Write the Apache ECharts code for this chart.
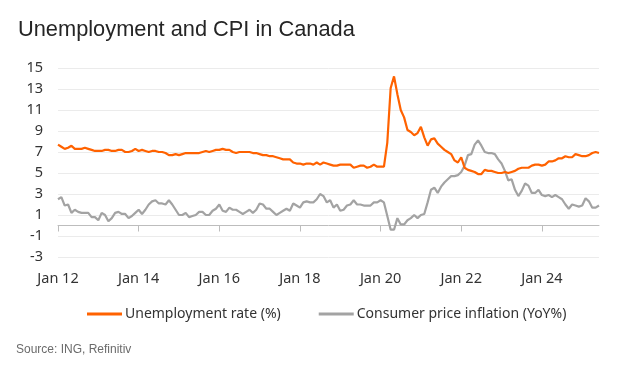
<!DOCTYPE html>
<html><head><meta charset="utf-8">
<script src="https://cdn.jsdelivr.net/npm/echarts@6/dist/echarts.min.js"></script>
<style>html,body{margin:0;padding:0;background:#fff}#c{width:633px;height:374px}</style>
</head><body><div id="c"></div>
<script>
var startYear = 2012;
var monthNames = ['Jan','Feb','Mar','Apr','May','Jun','Jul','Aug','Sep','Oct','Nov','Dec'];
var yTicks = [-3,-1,1,3,5,7,9,11,13,15];
var unemployment = [
 7.7,7.5,7.3,7.4,7.6,7.3,7.3,7.3,7.4,7.3,7.2,7.1,
 7.1,7.1,7.2,7.2,7.1,7.1,7.2,7.2,7.0,7.0,7.1,7.3,
 7.1,7.2,7.1,7.0,7.1,7.1,7.0,7.0,6.9,6.7,6.7,6.8,
 6.7,6.8,6.9,6.9,6.9,6.9,6.9,7.0,7.1,7.0,7.1,7.2,
 7.2,7.3,7.2,7.2,7.0,6.9,7.0,7.0,7.0,7.0,6.9,6.9,
 6.8,6.7,6.7,6.6,6.6,6.5,6.4,6.3,6.3,6.3,6.0,5.9,
 5.9,5.8,5.9,5.9,5.8,6.0,5.8,6.0,5.9,5.8,5.7,5.7,
 5.8,5.8,5.8,5.8,5.5,5.6,5.7,5.7,5.5,5.6,5.8,5.6,
 5.6,5.6,7.9,13.1,14.2,12.5,11.0,10.3,9.1,8.9,8.6,8.8,
 9.4,8.4,7.6,8.2,8.3,7.8,7.5,7.2,7.0,6.8,6.2,6.0,
 6.5,5.5,5.3,5.2,5.1,4.9,4.9,5.3,5.2,5.2,5.1,5.0,
 5.0,5.1,5.0,5.1,5.2,5.4,5.5,5.5,5.5,5.7,5.8,5.8,
 5.7,5.8,6.1,6.1,6.2,6.4,6.4,6.6,6.5,6.5,6.8,6.7,
 6.6,6.6,6.7,6.9,7.0,6.9
];
var cpi = [
 2.5,2.7,1.9,2.0,1.2,1.5,1.3,1.2,1.2,1.2,0.8,0.8,
 0.5,1.2,1.0,0.4,0.7,1.2,1.3,1.1,1.1,0.7,0.9,1.2,
 1.5,1.1,1.5,2.0,2.3,2.4,2.1,2.1,2.0,2.4,2.0,1.5,
 1.0,1.0,1.2,0.8,0.9,1.0,1.3,1.3,1.0,1.0,1.4,1.6,
 2.0,1.4,1.3,1.7,1.5,1.5,1.3,1.1,1.3,1.5,1.2,1.5,
 2.1,2.0,1.6,1.6,1.3,1.0,1.2,1.4,1.6,1.4,2.1,1.9,
 1.7,2.2,2.3,2.2,2.2,2.5,3.0,2.8,2.2,2.4,1.7,2.0,
 1.4,1.5,1.9,2.0,2.4,2.0,2.0,1.9,1.9,1.9,2.2,2.2,
 2.4,2.2,0.9,-0.4,-0.4,0.7,0.1,0.1,0.5,0.7,1.0,0.7,
 1.0,1.1,2.2,3.4,3.6,3.1,3.7,4.1,4.4,4.7,4.7,4.8,
 5.1,5.7,6.7,6.8,7.7,8.1,7.6,7.0,6.9,6.9,6.8,6.3,
 5.9,5.2,4.3,4.4,3.4,2.8,3.3,4.0,3.8,3.1,3.1,3.4,
 2.9,2.8,2.9,2.7,2.9,2.7,2.5,2.0,1.6,2.0,1.9,1.8,
 1.9,2.6,2.3,1.7,1.7,1.9
];
var categories = [];
for (var i = 0; i < unemployment.length; i++) {
  var y = startYear + Math.floor(i / 12);
  categories.push(monthNames[i % 12] + ' ' + String(y).slice(2));
}
var labelEvery = function (idx) { return idx % 24 === 0; };
var axisFont = 'Noto Sans';
var chart = echarts.init(document.getElementById('c'), null, {renderer: 'canvas'});
chart.setOption({
  animation: false,
  title: {
    text: 'Unemployment and CPI in Canada', left: 13, top: 14,
    textStyle: {fontFamily: 'Liberation Sans', fontSize: 21.8, fontWeight: 'normal', color: '#252525'}
  },
  legend: {
    left: 82, top: 302, itemGap: 38, itemWidth: 35, itemHeight: 3, icon: 'rect',
    textStyle: {fontFamily: axisFont, fontSize: 14, color: '#333', padding: [0,0,0,-2]},
    data: ['Unemployment rate (%)', 'Consumer price inflation (YoY%)']
  },
  graphic: [{
    type: 'text', left: 16, top: 344,
    style: {text: 'Source: ING, Refinitiv', font: '12px "Liberation Sans"', fill: '#6b6b6b'}
  }],
  grid: {left: 58, right: 34, top: 68, bottom: 117, containLabel: false},
  xAxis: [{
    type: 'category', data: categories, boundaryGap: false,
    axisLine: {show: false, onZero: false}, axisTick: {show: false},
    axisLabel: {interval: labelEvery, fontFamily: axisFont, fontSize: 14.5, color: '#333', margin: 14},
    splitLine: {show: false}
  }, {
    type: 'category', data: categories, boundaryGap: false, position: 'bottom',
    axisLine: {show: true, onZero: true, lineStyle: {color: '#bdbdbd', width: 1}},
    axisTick: {show: true, interval: labelEvery, length: 6, lineStyle: {color: '#bdbdbd'}},
    axisLabel: {show: false}, splitLine: {show: false}
  }],
  yAxis: {
    type: 'value', min: yTicks[0], max: yTicks[yTicks.length - 1], interval: 2,
    axisLine: {show: false}, axisTick: {show: false},
    axisLabel: {fontFamily: axisFont, fontSize: 14.5, color: '#333', margin: 15},
    splitLine: {lineStyle: {color: '#ebebeb', width: 1}}
  },
  series: [{
    name: 'Unemployment rate (%)', type: 'line', data: unemployment, xAxisIndex: 0,
    symbol: 'none', color: '#FF6200', lineStyle: {width: 2.2, color: '#FF6200'}, z: 3
  }, {
    name: 'Consumer price inflation (YoY%)', type: 'line', data: cpi, xAxisIndex: 0,
    symbol: 'none', color: '#a3a3a3', lineStyle: {width: 2.2, color: '#a3a3a3'}, z: 2
  }]
});
</script></body></html>
